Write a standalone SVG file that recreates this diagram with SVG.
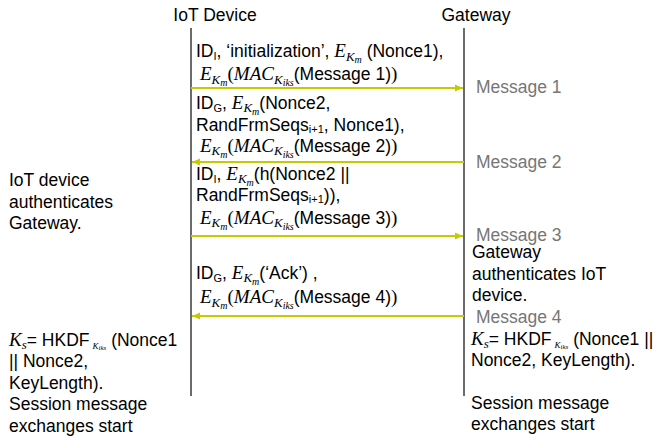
<svg xmlns="http://www.w3.org/2000/svg" width="653" height="438" viewBox="0 0 653 438">
  <style>
    .t { font-family: "Liberation Sans", Arial, sans-serif; font-size: 17.5px; fill: #000; }
    .lbl { font-family: "Liberation Sans", Arial, sans-serif; font-size: 17.5px; fill: #767676; }
    .mi { font-family: "Liberation Serif", "Times New Roman", serif; font-style: italic; }
    .mr { font-family: "Liberation Serif", "Times New Roman", serif; }
    .sub { font-size: 11px; }
    .life { stroke: #6b6b6b; stroke-width: 2; fill: none; }
    .msg { stroke: #c9c900; stroke-width: 2; fill: none; }
  </style>
  <defs>
    <marker id="head" markerUnits="userSpaceOnUse" markerWidth="9" markerHeight="8" refX="8" refY="4" orient="auto">
      <path d="M0,0.5 L8,4 L0,7.5 Z" fill="#c9c900"/>
    </marker>
  </defs>

  <rect width="653" height="438" fill="#fff"/>

  <!-- participants -->
  <g id="iot-device">
    <text class="t" x="215" y="21" text-anchor="middle">IoT Device</text>
    <line class="life" x1="191" y1="28" x2="191" y2="396"/>
  </g>
  <g id="gateway">
    <text class="t" x="476" y="21" text-anchor="middle">Gateway</text>
    <line class="life" x1="464" y1="28" x2="464" y2="396"/>
  </g>

  <!-- message arrows -->
  <g id="connectors">
    <line class="msg" x1="191" y1="88" x2="463" y2="88" marker-end="url(#head)"/>
    <line class="msg" x1="464" y1="162" x2="192" y2="162" marker-end="url(#head)"/>
    <line class="msg" x1="191" y1="236" x2="463" y2="236" marker-end="url(#head)"/>
    <line class="msg" x1="464" y1="316" x2="192" y2="316" marker-end="url(#head)"/>
  </g>

  <!-- message 1 -->
  <g id="msg1">
    <text class="t" x="196" y="57">ID<tspan class="sub" dy="3">I</tspan><tspan dy="-3">, ‘initialization’, </tspan><tspan class="mi" font-size="19">E</tspan><tspan class="mi" font-size="13" dy="3.5">K</tspan><tspan class="mi" font-size="10" dy="2.5">m</tspan><tspan dy="-6"> (Nonce1),</tspan></text>
    <text class="t" x="200" y="80"><tspan class="mi" font-size="19">E</tspan><tspan class="mi" font-size="13" dy="3.5">K</tspan><tspan class="mi" font-size="10" dy="2.5">m</tspan><tspan class="mr" font-size="19" dy="-6">(</tspan><tspan class="mi" font-size="19">MAC</tspan><tspan class="mi" font-size="13" dy="3.5">K</tspan><tspan class="mi" font-size="10" dy="2.5">iks</tspan><tspan dy="-6">(Message 1)</tspan><tspan class="mr" font-size="19">)</tspan></text>
    <text class="lbl" x="476" y="93">Message 1</text>
  </g>

  <!-- message 2 -->
  <g id="msg2">
    <text class="t" x="196" y="108.5">ID<tspan class="sub" dy="3">G</tspan><tspan dy="-3">, </tspan><tspan class="mi" font-size="19">E</tspan><tspan class="mi" font-size="13" dy="3.5">K</tspan><tspan class="mi" font-size="10" dy="2.5">m</tspan><tspan dy="-6">(Nonce2,</tspan></text>
    <text class="t" x="196" y="130.5">RandFrmSeqs<tspan class="sub" dy="2">i+1</tspan><tspan dy="-2">, Nonce1),</tspan></text>
    <text class="t" x="200" y="151.5"><tspan class="mi" font-size="19">E</tspan><tspan class="mi" font-size="13" dy="3.5">K</tspan><tspan class="mi" font-size="10" dy="2.5">m</tspan><tspan class="mr" font-size="19" dy="-6">(</tspan><tspan class="mi" font-size="19">MAC</tspan><tspan class="mi" font-size="13" dy="3.5">K</tspan><tspan class="mi" font-size="10" dy="2.5">iks</tspan><tspan dy="-6">(Message 2)</tspan><tspan class="mr" font-size="19">)</tspan></text>
    <text class="lbl" x="476" y="168">Message 2</text>
  </g>

  <!-- message 3 -->
  <g id="msg3">
    <text class="t" x="196" y="179.5">ID<tspan class="sub" dy="3">I</tspan><tspan dy="-3">, </tspan><tspan class="mi" font-size="19">E</tspan><tspan class="mi" font-size="13" dy="3.5">K</tspan><tspan class="mi" font-size="10" dy="2.5">m</tspan><tspan dy="-6">(h(Nonce2 ||</tspan></text>
    <text class="t" x="196" y="201">RandFrmSeqs<tspan class="sub" dy="2">i+1</tspan><tspan dy="-2">)),</tspan></text>
    <text class="t" x="200" y="223.5"><tspan class="mi" font-size="19">E</tspan><tspan class="mi" font-size="13" dy="3.5">K</tspan><tspan class="mi" font-size="10" dy="2.5">m</tspan><tspan class="mr" font-size="19" dy="-6">(</tspan><tspan class="mi" font-size="19">MAC</tspan><tspan class="mi" font-size="13" dy="3.5">K</tspan><tspan class="mi" font-size="10" dy="2.5">iks</tspan><tspan dy="-6">(Message 3)</tspan><tspan class="mr" font-size="19">)</tspan></text>
    <text class="lbl" x="476" y="241">Message 3</text>
  </g>

  <!-- message 4 -->
  <g id="msg4">
    <text class="t" x="196" y="278.5">ID<tspan class="sub" dy="3">G</tspan><tspan dy="-3">, </tspan><tspan class="mi" font-size="19">E</tspan><tspan class="mi" font-size="13" dy="3.5">K</tspan><tspan class="mi" font-size="10" dy="2.5">m</tspan><tspan dy="-6">(‘Ack’) ,</tspan></text>
    <text class="t" x="200" y="303"><tspan class="mi" font-size="19">E</tspan><tspan class="mi" font-size="13" dy="3.5">K</tspan><tspan class="mi" font-size="10" dy="2.5">m</tspan><tspan class="mr" font-size="19" dy="-6">(</tspan><tspan class="mi" font-size="19">MAC</tspan><tspan class="mi" font-size="13" dy="3.5">K</tspan><tspan class="mi" font-size="10" dy="2.5">iks</tspan><tspan dy="-6">(Message 4)</tspan><tspan class="mr" font-size="19">)</tspan></text>
    <text class="lbl" x="476" y="323">Message 4</text>
  </g>

  <!-- device-side notes -->
  <g id="device-auth-note">
    <text class="t" x="9" y="186">IoT device</text>
    <text class="t" x="9" y="208">authenticates</text>
    <text class="t" x="9" y="229">Gateway.</text>
  </g>
  <g id="device-session-note">
    <text class="t" x="9" y="346"><tspan class="mi" font-size="19">K</tspan><tspan class="mi" font-size="13" dy="3">s</tspan><tspan dy="-3">= HKDF</tspan><tspan class="mi" font-size="9" dx="3" dy="3">K</tspan><tspan class="mi" font-size="7" dy="1">iks</tspan><tspan dy="-4"> (Nonce1</tspan></text>
    <text class="t" x="9" y="367">|| Nonce2,</text>
    <text class="t" x="9" y="389">KeyLength).</text>
    <text class="t" x="9" y="410">Session message</text>
    <text class="t" x="9" y="432">exchanges start</text>
  </g>

  <!-- gateway-side notes -->
  <g id="gateway-auth-note">
    <text class="t" x="472" y="258">Gateway</text>
    <text class="t" x="472" y="280">authenticates IoT</text>
    <text class="t" x="472" y="301">device.</text>
  </g>
  <g id="gateway-session-note">
    <text class="t" x="471" y="345"><tspan class="mi" font-size="19">K</tspan><tspan class="mi" font-size="13" dy="3">s</tspan><tspan dy="-3">= HKDF</tspan><tspan class="mi" font-size="9" dx="3" dy="3">K</tspan><tspan class="mi" font-size="7" dy="1">iks</tspan><tspan dy="-4"> (Nonce1 ||</tspan></text>
    <text class="t" x="471" y="366">Nonce2, KeyLength).</text>
    <text class="t" x="471" y="409">Session message</text>
    <text class="t" x="471" y="430">exchanges start</text>
  </g>
</svg>
